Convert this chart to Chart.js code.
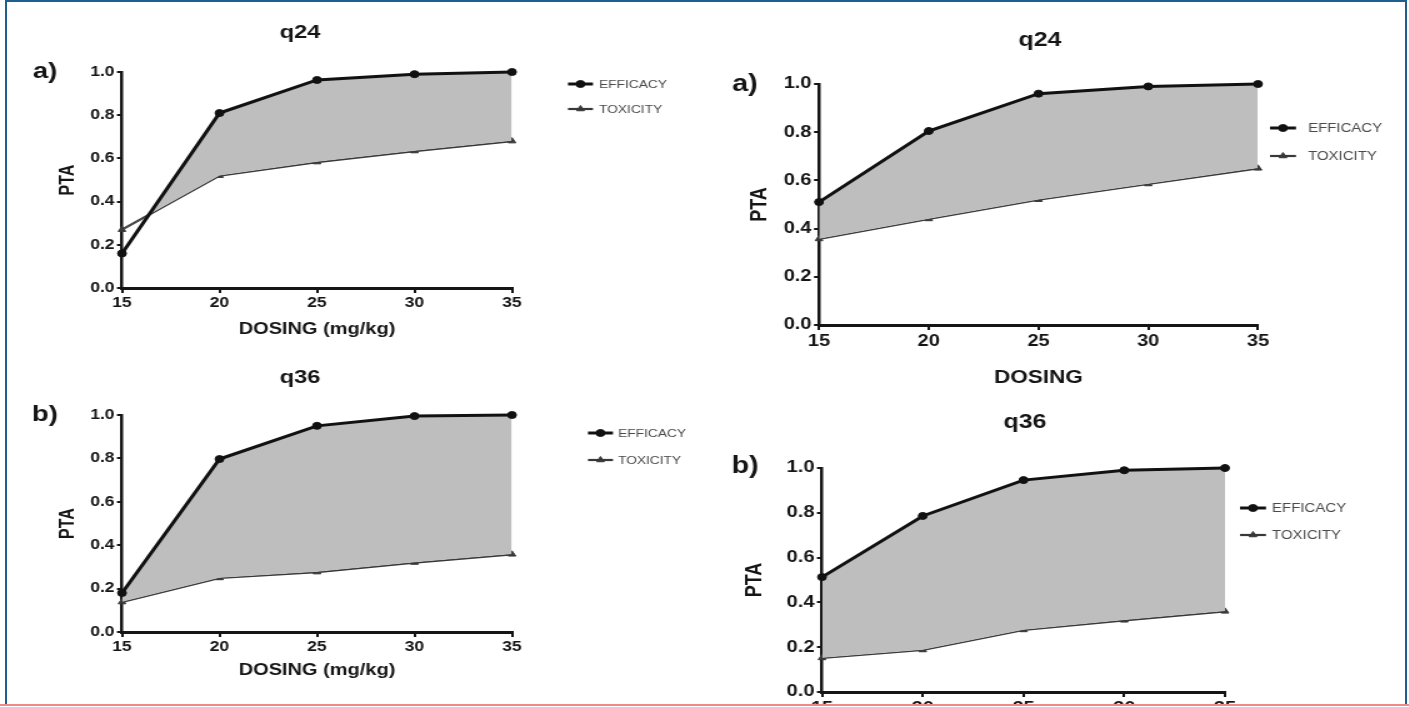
<!DOCTYPE html>
<html>
<head>
<meta charset="utf-8">
<script src="https://cdn.jsdelivr.net/npm/chart.js@4.4.1/dist/chart.umd.min.js"></script>
<style>
  html, body { margin: 0; padding: 0; background: #fff; overflow: hidden; width: 1409px; height: 707px; }
  #stage { position: relative; width: 1409px; height: 707px; overflow: hidden; }
  .panel { position: absolute; transform-origin: 0 0; }
  .frame { position: absolute; left: 5px; top: 0; width: 1402px; height: 706px; border: 2px solid #1d5f8e; border-bottom: none; box-sizing: border-box; pointer-events: none; }
  .redline { position: absolute; left: 0; top: 704px; width: 1409px; height: 2px; background: #f08a8a; }
  .below { position: absolute; left: 0; top: 706px; width: 1409px; height: 1px; background: #fff; }
</style>
</head>
<body>
<div id="stage"></div>
<script>
// x values (mg/kg) and y tick values
const doses = [15, 20, 25, 30, 35];
const ptaTicks = [0, 0.2, 0.4, 0.6, 0.8, 1.0];
const seriesNames = ['EFFICACY', 'TOXICITY'];

// left figure, q24 and q36
const effQ24Left = [0.16, 0.81, 0.963, 0.99, 1.0];
const toxQ24Left = [0.27, 0.52, 0.583, 0.634, 0.68];
const effQ36Left = [0.18, 0.797, 0.95, 0.995, 1.0];
const toxQ36Left = [0.138, 0.249, 0.276, 0.32, 0.358];

// right figure, q24 and q36
const effQ24Right = [0.51, 0.805, 0.96, 0.99, 1.0];
const toxQ24Right = [0.357, 0.44, 0.52, 0.585, 0.65];
const effQ36Right = [0.513, 0.786, 0.946, 0.99, 1.0];
const toxQ36Right = [0.152, 0.1875, 0.277, 0.32, 0.36];

const SX = 1.25; // the picture is stretched sideways
const FAMILY = "'Liberation Sans', Arial, sans-serif";
const INK = '#151515';

// page-pixel layout of each panel
const panels = [
  { left: 0, top: 0, width: 700, height: 345, area: { l: 122, r: 512, t: 72, b: 288 },
    title: 'q24', titleX: 300, titleY: 33, tag: 'a)', tagX: 45, tagY: 72,
    ptaX: 68, xTitle: 'DOSING (mg/kg)', xTitleY: 330,
    legX: 568, legLen: 25, legTextX: 599, legY: [84, 109],
    fonts: { tick: 14, axis: 16, title: 19, tag: 22, legend: 11 },
    eff: effQ24Left, tox: toxQ24Left },
  { left: 700, top: 0, width: 709, height: 400, area: { l: 819, r: 1258, t: 84, b: 325 },
    title: 'q24', titleX: 1040, titleY: 40, tag: 'a)', tagX: 745, tagY: 85,
    ptaX: 760, xTitle: 'DOSING', xTitleY: 378,
    legX: 1270, legLen: 26, legTextX: 1308, legY: [128, 156],
    fonts: { tick: 16, axis: 18, title: 20, tag: 23, legend: 12 },
    eff: effQ24Right, tox: toxQ24Right },
  { left: 0, top: 345, width: 700, height: 362, area: { l: 122, r: 512, t: 415, b: 632 },
    title: 'q36', titleX: 300, titleY: 378, tag: 'b)', tagX: 45, tagY: 415,
    ptaX: 68, xTitle: 'DOSING (mg/kg)', xTitleY: 671,
    legX: 588, legLen: 25, legTextX: 618, legY: [433, 460],
    fonts: { tick: 14, axis: 16, title: 19, tag: 22, legend: 11 },
    eff: effQ36Left, tox: toxQ36Left },
  { left: 700, top: 400, width: 709, height: 370, area: { l: 822, r: 1225, t: 468, b: 692 },
    title: 'q36', titleX: 1025, titleY: 422, tag: 'b)', tagX: 745, tagY: 467,
    ptaX: 755, xTitle: 'DOSING', xTitleY: 745,
    legX: 1240, legLen: 26, legTextX: 1272, legY: [508, 535],
    fonts: { tick: 16, axis: 18, title: 20, tag: 23, legend: 12 },
    eff: effQ36Right, tox: toxQ36Right }
];

function makeExtras(p) {
  return {
    id: 'extras',
    afterDraw(chart) {
      const ctx = chart.ctx;
      const ux = x => (x - p.left) / SX;
      const uy = y => y - p.top;
      ctx.save();
      ctx.fillStyle = INK;
      ctx.textAlign = 'center';
      ctx.textBaseline = 'middle';
      ctx.font = `bold ${p.fonts.title}px ${FAMILY}`;
      ctx.fillText(p.title, ux(p.titleX), uy(p.titleY));
      ctx.font = `bold ${p.fonts.tag}px ${FAMILY}`;
      ctx.fillText(p.tag, ux(p.tagX), uy(p.tagY));

      chart.data.datasets.forEach((ds, i) => {
        const y = uy(p.legY[i]);
        const x0 = ux(p.legX), x1 = ux(p.legX + p.legLen);
        ctx.strokeStyle = ds.borderColor;
        ctx.lineWidth = ds.borderWidth;
        ctx.beginPath();
        ctx.moveTo(x0, y);
        ctx.lineTo(x1, y);
        ctx.stroke();
        ctx.fillStyle = ds.pointBackgroundColor;
        ctx.lineWidth = 1;
        Chart.helpers.drawPoint(ctx, { pointStyle: ds.pointStyle, radius: ds.pointRadius, borderWidth: 1 }, (x0 + x1) / 2, y);
        ctx.fillStyle = '#4a4a4a';
        ctx.textAlign = 'left';
        ctx.font = `${p.fonts.legend}px ${FAMILY}`;
        ctx.fillText(ds.label, ux(p.legTextX), y + 1);
      });
      ctx.restore();
    }
  };
}

function makeChart(p) {
  const w = Math.round(p.width / SX);
  const axisLH = p.fonts.axis * 1.2;
  const padLeft = (p.ptaX - p.left) / SX - axisLH / 2;
  const yWidth = (p.area.l - p.left) / SX - padLeft;
  const padRight = w - (p.area.r - p.left) / SX;
  const padTop = p.area.t - p.top;
  const xHeight = p.xTitleY + axisLH / 2 - p.area.b;
  const padBottom = Math.max(0, p.height - (p.area.b - p.top) - xHeight);

  const wrap = document.createElement('div');
  wrap.className = 'panel';
  wrap.style.left = p.left + 'px';
  wrap.style.top = p.top + 'px';
  wrap.style.transform = `scaleX(${SX})`;
  const cv = document.createElement('canvas');
  cv.width = w;
  cv.height = p.height;
  cv.style.width = w + 'px';
  cv.style.height = p.height + 'px';
  wrap.appendChild(cv);
  document.getElementById('stage').appendChild(wrap);

  const tickFont = { family: FAMILY, size: p.fonts.tick, weight: 'bold' };
  const titleFont = { family: FAMILY, size: p.fonts.axis, weight: 'bold' };

  new Chart(cv, {
    type: 'line',
    data: {
      datasets: [
        {
          label: seriesNames[0],
          data: doses.map((d, i) => ({ x: d, y: p.eff[i] })),
          borderColor: '#111',
          backgroundColor: '#111',
          pointBackgroundColor: '#111',
          borderWidth: 3,
          pointStyle: 'circle',
          pointRadius: 3.5,
          pointBorderWidth: 1,
          tension: 0,
          clip: false,
          fill: { target: 1, above: '#bebebe', below: 'rgba(0,0,0,0)' }
        },
        {
          label: seriesNames[1],
          data: doses.map((d, i) => ({ x: d, y: p.tox[i] })),
          borderColor: '#383838',
          backgroundColor: '#383838',
          pointBackgroundColor: '#383838',
          borderWidth: 2.2,
          pointStyle: 'triangle',
          pointRadius: 3.5,
          pointBorderWidth: 1,
          tension: 0,
          clip: false,
          fill: false
        }
      ]
    },
    options: {
      responsive: false,
      animation: false,
      devicePixelRatio: 1,
      layout: { padding: { left: padLeft, right: padRight, top: padTop, bottom: padBottom } },
      plugins: { legend: { display: false }, tooltip: { enabled: false }, title: { display: false } },
      scales: {
        x: {
          type: 'linear',
          min: doses[0],
          max: doses[doses.length - 1],
          afterBuildTicks: s => { s.ticks = doses.map(v => ({ value: v })); },
          afterFit: s => { s.height = xHeight; },
          ticks: { font: tickFont, color: INK, padding: 2, maxRotation: 0, autoSkip: false },
          grid: { display: true, drawOnChartArea: false, drawTicks: true, tickLength: 5, color: INK, lineWidth: 2 },
          border: { display: true, color: INK, width: 3 },
          title: { display: true, text: p.xTitle, font: titleFont, color: INK, padding: 0 }
        },
        y: {
          type: 'linear',
          min: 0,
          max: 1,
          afterBuildTicks: s => { s.ticks = ptaTicks.map(v => ({ value: v })); },
          afterFit: s => { s.width = yWidth; },
          ticks: { font: tickFont, color: INK, padding: 2, callback: v => v.toFixed(1) },
          grid: { display: true, drawOnChartArea: false, drawTicks: true, tickLength: 4, color: INK, lineWidth: 2 },
          border: { display: true, color: INK, width: 2.5 },
          title: { display: true, text: 'PTA', font: titleFont, color: INK, padding: 0 }
        }
      }
    },
    plugins: [makeExtras(p)]
  });
}

panels.forEach(makeChart);

const stage = document.getElementById('stage');
['frame', 'redline', 'below'].forEach(c => {
  const d = document.createElement('div');
  d.className = c;
  stage.appendChild(d);
});
</script>
</body>
</html>
